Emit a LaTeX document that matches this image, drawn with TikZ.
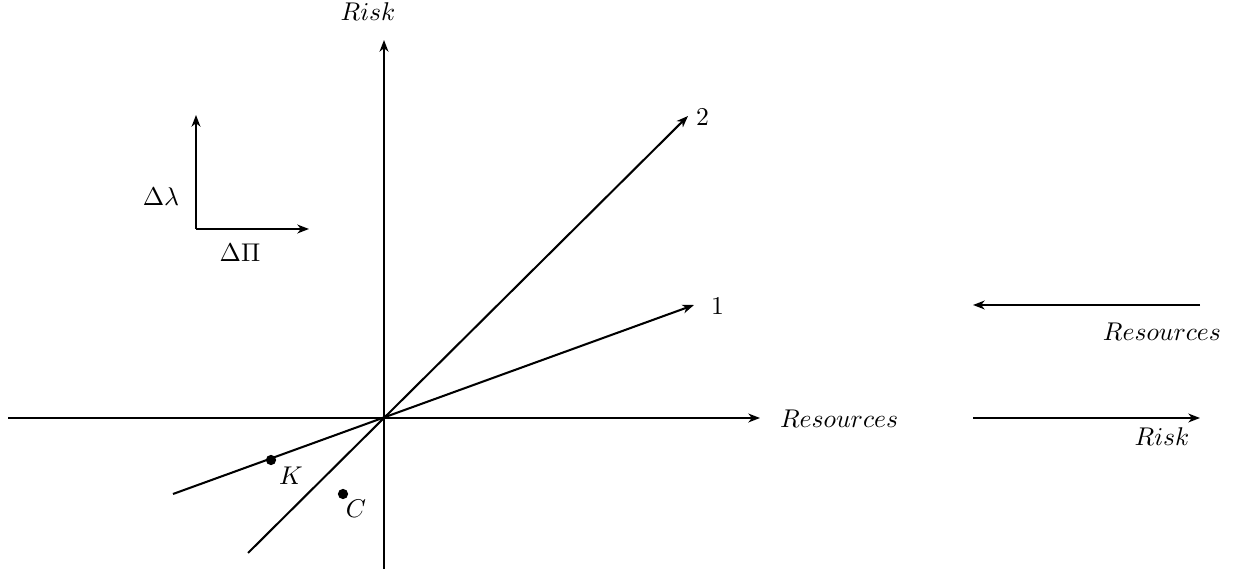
\documentclass[tikz,border=0pt]{standalone}
\usetikzlibrary{arrows.meta}
\begin{document}
\begin{tikzpicture}[x=0.39pt,y=-0.39pt,
  ax/.style={line width=0.8pt,-{Stealth[length=4.5pt,width=3.4pt,inset=1.3pt]}},
  ln/.style={line width=0.8pt},
  lbl/.style={inner sep=1pt},
  dot/.style={circle,fill=black,inner sep=0pt,minimum size=4pt}]
\useasboundingbox (0,0) rectangle (1242,574);
% main axes
\coordinate (O) at (384,418);
\coordinate (yb) at (384,569);
\coordinate (yt) at (384,40);
\coordinate (xl) at (8,418);
\coordinate (xr) at (760,418);
\draw[ax] (yb) -- (yt);
\draw[ax] (xl) -- (xr);
\node[lbl] (risk) at (368,12) {$Risk$};
\node[lbl,anchor=west] (res) at (777,419) {$Resources$};
% line 2
\coordinate (l2b) at (248,553);
\coordinate (l2t) at (688,116);
\draw[ax] (l2b) -- (l2t);
\node[lbl,anchor=west] (n2) at (693,117) {$2$};
% line 1
\coordinate (l1b) at (173,494);
\coordinate (l1t) at (694,305);
\draw[ax] (l1b) -- (l1t);
\node[lbl,anchor=west] (n1) at (708,306) {$1$};
% points
\node[dot] (K) at (271,460) {};
\node[lbl] (Kl) at (291,476) {$K$};
\node[dot] (C) at (343,494) {};
\node[lbl] (Cl) at (356,509) {$C$};
% small axes
\coordinate (sc) at (196,229);
\coordinate (sv) at (196,115);
\coordinate (sh) at (309,229);
\draw[ax] (sc) -- (sv);
\draw[ax] (sc) -- (sh);
\node[lbl] (dl) at (161,197) {$\Delta\lambda$};
\node[lbl] (dP) at (240,253) {$\Delta\Pi$};
% right legend
\coordinate (r1a) at (1200,305);
\coordinate (r1b) at (973,305);
\draw[ax] (r1a) -- (r1b);
\node[lbl] (rres) at (1162,332) {$Resources$};
\coordinate (r2a) at (973,418);
\coordinate (r2b) at (1200,418);
\draw[ax] (r2a) -- (r2b);
\node[lbl] (rrisk) at (1162,437) {$Risk$};
\end{tikzpicture}
\end{document}
